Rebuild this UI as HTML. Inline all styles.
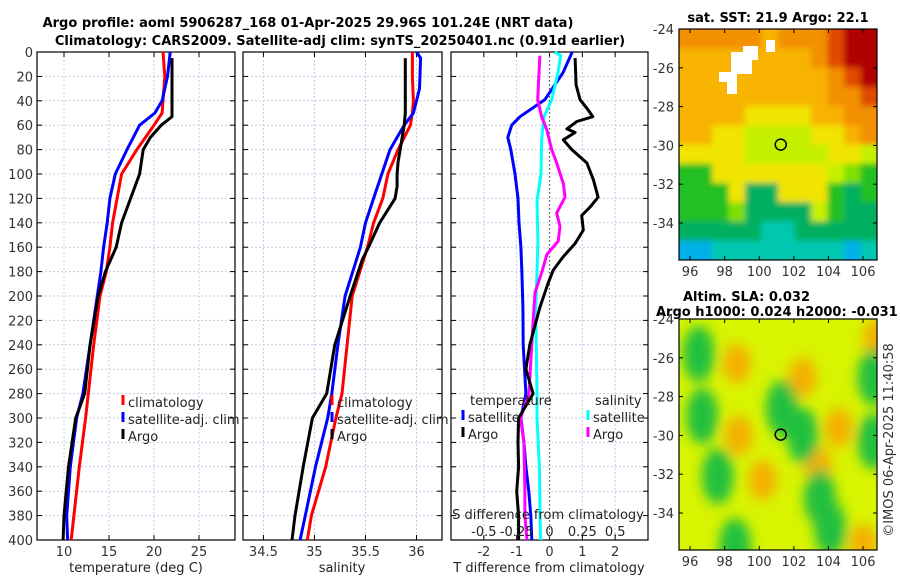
<!DOCTYPE html>
<html><head><meta charset="utf-8"><style>
html,body{margin:0;padding:0;background:#fff;}
svg{display:block;font-family:"DejaVu Sans","Liberation Sans",sans-serif;}
.tk{font-size:13px;fill:#333;}
.tt{font-size:13px;font-weight:bold;fill:#000;}
.lg{font-size:13px;fill:#222;}
</style></head><body>
<svg id="fig" width="900" height="580" viewBox="0 0 900 580">
<defs><filter id="blur" x="-10%" y="-10%" width="120%" height="120%"><feGaussianBlur stdDeviation="6"/></filter>
<filter id="blur2" x="-5%" y="-5%" width="110%" height="110%"><feGaussianBlur stdDeviation="3"/></filter>
<clipPath id="clipSla"><rect x="679" y="319" width="198" height="231"/></clipPath>
<clipPath id="clipSst"><rect x="679" y="29" width="198" height="231"/></clipPath></defs>
<text class="tt" x="308" y="27" text-anchor="middle">Argo profile: aoml 5906287_168 01-Apr-2025 29.96S 101.24E (NRT data)</text>
<text class="tt" x="340" y="45" text-anchor="middle">Climatology: CARS2009. Satellite-adj clim: synTS_20250401.nc (0.91d earlier)</text>
<g id="plots"></g>
</svg>
<script>
// ---- data ----
const tempClimDepth=[0,20,40,50,60,80,100,120,140,160,180,200,240,280,300,340,380,400];
const tempClim=[21.0,21.2,21.0,20.9,20.0,18.1,16.4,15.9,15.4,15.1,14.7,14.0,13.3,12.7,12.4,11.7,11.1,10.8];
const tempSatDepth=[0,20,40,50,60,80,100,120,140,160,180,200,240,280,300,340,380,400];
const tempSat=[21.8,21.5,20.9,20.1,18.4,17.0,15.7,15.1,14.8,14.4,14.1,13.7,12.9,12.1,11.4,10.7,10.3,10.4];
const tempArgoDepth=[5,20,40,53,60,70,80,90,100,120,140,160,180,200,240,280,300,340,380,400];
const tempArgo=[22.0,22.0,22.0,22.0,20.8,19.6,18.8,18.6,18.4,17.4,16.4,15.8,14.6,13.8,12.9,12.3,11.3,10.5,10.0,9.9];
const salClimDepth=[0,20,40,50,60,80,100,120,140,160,200,240,280,300,340,380,400];
const salClim=[35.96,35.96,35.97,35.96,35.94,35.82,35.72,35.67,35.58,35.52,35.37,35.32,35.27,35.21,35.11,34.97,34.93];
const salSatDepth=[0,5,30,40,50,60,70,80,100,120,140,160,200,240,280,300,340,380,400];
const salSat=[36.0,36.04,36.03,36.0,35.97,35.88,35.81,35.74,35.66,35.58,35.5,35.45,35.30,35.23,35.17,35.13,35.01,34.91,34.86];
const salArgoDepth=[5,20,50,60,70,80,90,100,110,120,140,160,170,200,240,280,300,340,380,400];
const salArgo=[35.89,35.89,35.89,35.88,35.86,35.84,35.82,35.81,35.81,35.79,35.64,35.53,35.47,35.35,35.2,35.12,34.98,34.89,34.81,34.78];
const dTSatDepth=[0,17,39,53,60,70,80,100,120,140,160,181,209,240,280,300,320,340,360,380,400];
const dTSat=[0.69,0.41,-0.14,-0.9,-1.15,-1.27,-1.18,-1.05,-0.96,-0.93,-0.87,-0.84,-0.81,-0.8,-0.72,-0.87,-0.78,-0.72,-0.63,-0.57,-0.54];
const dTArgoDepth=[5,27,39,48,53,57,63,66,72,80,91,105,119,127,134,146,157,168,179,190,209,240,260,280,300,320,340,360,380,400];
const dTArgo=[0.78,0.81,0.93,1.19,1.32,0.83,0.53,0.78,0.42,0.68,1.14,1.34,1.48,1.24,0.98,1.03,0.78,0.41,0.11,-0.05,-0.29,-0.6,-0.72,-0.5,-0.94,-0.96,-0.94,-1.0,-0.94,-0.94];
const dSSatDepth=[0,3,17,39,53,72,100,122,155,181,209,280,300,340,380,400];
const dSSat=[0.04,0.085,0.065,0.017,-0.042,-0.06,-0.065,-0.095,-0.088,-0.095,-0.105,-0.095,-0.095,-0.077,-0.072,-0.067];
const dSArgoDepth=[3,17,39,53,64,80,91,108,119,132,143,155,166,181,197,209,280,300,320,360,380,400];
const dSArgo=[-0.073,-0.08,-0.09,-0.06,-0.02,0.017,0.055,0.106,0.118,0.055,0.08,0.066,-0.02,-0.06,-0.11,-0.118,-0.157,-0.22,-0.195,-0.187,-0.187,-0.172];
const depthTicks=[0,20,40,60,80,100,120,140,160,180,200,220,240,260,280,300,320,340,360,380,400];
const tempTicks=[10,15,20,25];
const salTicks=[34.5,35,35.5,36];
const dTTicks=[-2,-1,0,1,2];
const dSTickLabels=["-0.5","-0.25","0","0.25","0.5"];
const dSTicks=[-0.5,-0.25,0,0.25,0.5];
const lonTicks=[96,98,100,102,104,106];
const latTicks=[-24,-26,-28,-30,-32,-34];
const sstRows=[
"oooooOooorRR",
"OOOOOOOOorRR",
"OOOOOOOOOorR",
"OOOOOOOOOoor",
"OOOOyyyyOOoo",
"OOyyllllyyOo",
"yyyylllllyyl",
"ggyyyyyyylLg",
"gggyGGyyygGg",
"gggLGGGGlgGG",
"GGGGGccGGGGG",
"bbccccccccbc"];
const sstColors={R:"#b00000",r:"#e04a00",o:"#f29000",O:"#f8b200",y:"#f0e400",l:"#c4f000",L:"#80e000",g:"#20c020",G:"#00b060",c:"#00c8b0",b:"#00b0e8",B:"#2080f0"};
const slaGreenLon=[96.5,96.7,97.6,101.3,102.5,103.5,104.1,106.6,106.6,98.6];
const slaGreenLat=[-25.8,-29,-32.1,-28.6,-30,-33.2,-34.8,-27,-30.3,-35.7];
const slaOrangeLon=[98.7,102.5,100.2,103.4,104.6,106.8,106,98.8];
const slaOrangeLat=[-26.3,-27,-32.3,-31.6,-29.6,-25,-35.6,-30];

// ---- drawing ----
const NS="http://www.w3.org/2000/svg";
const G=document.getElementById('plots');
function mk(tag,attrs,parent){const e=document.createElementNS(NS,tag);for(const k in attrs)e.setAttribute(k,attrs[k]);(parent||G).appendChild(e);return e;}
const Y0=52,Y1=540;
function yD(d){return Y0+(d/400)*(Y1-Y0);}
function makePanel(x0,x1,vmin,vmax){return {x0,x1,x:v=>x0+(v-vmin)/(vmax-vmin)*(x1-x0)};}
const P1=makePanel(37,235,7,29), P2=makePanel(243,442,34.3,36.25), P3=makePanel(451,648,-3,3);
const P3s=makePanel(451,648,-0.75,0.75);
function frame(P,xticks,name){
  const g=mk('g',{});
  
  
  depthTicks.forEach(d=>{mk('line',{x1:P.x0,x2:P.x1,y1:yD(d),y2:yD(d),stroke:'#c5cbe6','stroke-dasharray':'2,2','stroke-width':1},g);
    mk('line',{x1:P.x0,x2:P.x0+5,y1:yD(d),y2:yD(d),stroke:'#000'},g);mk('line',{x1:P.x1-5,x2:P.x1,y1:yD(d),y2:yD(d),stroke:'#000'},g);});
  xticks.forEach(v=>{const x=P.x(v);mk('line',{x1:x,x2:x,y1:Y0,y2:Y1,stroke:'#c5cbe6','stroke-dasharray':'2,2'},g);
    mk('line',{x1:x,x2:x,y1:Y0,y2:Y0+5,stroke:'#000'},g);mk('line',{x1:x,x2:x,y1:Y1-5,y2:Y1,stroke:'#000'},g);
    const t=mk('text',{x:x,y:556,'text-anchor':'middle',class:'tk'},g);t.textContent=String(v);
    
    });
  mk('rect',{x:P.x0,y:Y0,width:P.x1-P.x0,height:Y1-Y0,fill:'none',stroke:'#000','stroke-width':1.2},g);
  return g;
}
function series(P,vals,depths,color,name){
  const pts=vals.map((v,i)=>P.x(v).toFixed(1)+','+yD(depths[i]).toFixed(1)).join(' ');
  const p=mk('polyline',{points:pts,fill:'none',stroke:color,'stroke-width':3,'stroke-linejoin':'round'});
  
  
}
frame(P1,tempTicks,'temperature-panel');
frame(P2,salTicks,'salinity-panel');
frame(P3,dTTicks,'difference-panel');
mk('line',{x1:P3.x(0),x2:P3.x(0),y1:Y0,y2:Y1,stroke:'#555','stroke-dasharray':'1.5,2.5','stroke-width':1.2});
depthTicks.forEach(d=>{const t=mk('text',{x:33,y:yD(d)+5,'text-anchor':'end',class:'tk'});t.textContent=d;
  
  });
series(P1,tempClim,tempClimDepth,'#f00','temp-climatology-line');
series(P1,tempSat,tempSatDepth,'#00f','temp-satellite-line');
series(P1,tempArgo,tempArgoDepth,'#000','temp-argo-line');
series(P2,salClim,salClimDepth,'#f00','sal-climatology-line');
series(P2,salSat,salSatDepth,'#00f','sal-satellite-line');
series(P2,salArgo,salArgoDepth,'#000','sal-argo-line');
series(P3,dTSat,dTSatDepth,'#00f','tdiff-satellite-line');
series(P3s,dSSat,dSSatDepth,'#0ff','sdiff-satellite-line');
series(P3s,dSArgo,dSArgoDepth,'#f0f','sdiff-argo-line');
series(P3,dTArgo,dTArgoDepth,'#000','tdiff-argo-line');
function txt(x,y,s,cls,name,anchor){const t=mk('text',{x,y,class:cls,'text-anchor':anchor||'start'});t.textContent=s;
  
  return t;}
function leg(x,y,color,label,name){mk('line',{x1:x,x2:x,y1:y-12,y2:y-2,stroke:color,'stroke-width':3});txt(x+5,y,label,'lg',name);}
leg(123,407,'#f00','climatology','legend-climatology');
leg(123,424,'#00f','satellite-adj. clim','legend-satellite');
leg(123,441,'#000','Argo','legend-argo');
leg(332,407,'#f00','climatology','legend2-climatology');
leg(332,424,'#00f','satellite-adj. clim','legend2-satellite');
leg(332,441,'#000','Argo','legend2-argo');
txt(470,405,'temperature','lg','legend-title-temperature');
leg(463,422,'#00f','satellite','legend-t-satellite');
leg(463,439,'#000','Argo','legend-t-argo');
txt(595,405,'salinity','lg','legend-title-salinity');
leg(588,422,'#0ff','satellite','legend-s-satellite');
leg(588,439,'#f0f','Argo','legend-s-argo');
txt(548,519,'S difference from climatology','lg','s-axis-title','middle');
dSTicks.forEach((v,i)=>txt(P3s.x(v),536,dSTickLabels[i],'lg','s-tick-label','middle'));
txt(136,572,'temperature (deg C)','lg','temperature-axis-title','middle');
txt(342,572,'salinity','lg','salinity-axis-title','middle');
txt(549,572,'T difference from climatology','lg','tdiff-axis-title','middle');
// ---- maps ----
const MX0=679,MX1=877;
function mlon(l){return MX0+(l-95.36)*17.3;}
function mapAxes(y0,name){
  const g=mk('g',{});
  
  
  const mlat=a=>y0+(-24-a)*19.4;
  latTicks.forEach(a=>{const y=mlat(a);mk('line',{x1:MX0,x2:MX0+4,y1:y,y2:y,stroke:'#000'},g);mk('line',{x1:MX1-4,x2:MX1,y1:y,y2:y,stroke:'#000'},g);
    const t=mk('text',{x:MX0-5,y:y+5,'text-anchor':'end',class:'tk'},g);t.textContent=String(a);});
  lonTicks.forEach(l=>{const x=mlon(l);mk('line',{x1:x,x2:x,y1:y0+231-4,y2:y0+231,stroke:'#000'},g);mk('line',{x1:x,x2:x,y1:y0,y2:y0+4,stroke:'#000'},g);
    const t=mk('text',{x:x,y:y0+247,'text-anchor':'middle',class:'tk'},g);t.textContent=String(l);});
  mk('rect',{x:MX0,y:y0,width:MX1-MX0,height:231,fill:'none',stroke:'#000','stroke-width':1.2},g);
  mk('circle',{cx:mlon(101.24),cy:mlat(-29.96),r:5.5,fill:'none',stroke:'#000','stroke-width':1.5},g);
}
const sg=mk('g',{'clip-path':'url(#clipSst)'});


const sb=mk('g',{filter:'url(#blur2)'},sg);
const cw=(MX1-MX0)/12,ch=231/12;
mk('rect',{x:MX0-10,y:19,width:220,height:251,fill:'#f0c000'},sb);
sstRows.forEach((row,r)=>{[...row].forEach((c,k)=>{mk('rect',{x:MX0+k*cw-(k==0?10:0),y:29+r*ch-(r==0?10:0),width:cw+0.5+(k==0||k==11?10:0),height:ch+0.5+(r==0||r==11?10:0),fill:sstColors[c]},sb);});});
mk('path',{d:'M731 52 h12 v-6 h15 v14 h-6 v14 h-15 v20 h-10 v-12 h-8 v-10 h12 z',fill:'#fff'},sg);
mk('rect',{x:766,y:40,width:9,height:12,fill:'#fff'},sg);
mapAxes(29,'sst-map-axes');
txt(778,22,'sat. SST: 21.9 Argo: 22.1','tt','sst-map-title','middle');
const ag=mk('g',{'clip-path':'url(#clipSla)'});


mk('rect',{x:MX0,y:319,width:198,height:231,fill:'#d8f400'},ag);
const bg=mk('g',{filter:'url(#blur)'},ag);
const slat=a=>319+(-24-a)*19.4;
slaOrangeLon.forEach((l,i)=>mk('ellipse',{cx:mlon(l),cy:slat(slaOrangeLat[i]),rx:14,ry:20,fill:'#f4b000'},bg));
slaGreenLon.forEach((l,i)=>mk('ellipse',{cx:mlon(l),cy:slat(slaGreenLat[i]),rx:16,ry:28,fill:'#20c040'},bg));
mapAxes(319,'sla-map-axes');
txt(683,301,'Altim. SLA: 0.032','tt','sla-title','start');
txt(656,316,'Argo h1000: 0.024 h2000: -0.031','tt','sla-subtitle','start');
const cr=mk('text',{x:893,y:440,class:'tk','text-anchor':'middle',transform:'rotate(-90 893 440)'});cr.textContent='©IMOS 06-Apr-2025 11:40:58';


</script>
</body></html>
